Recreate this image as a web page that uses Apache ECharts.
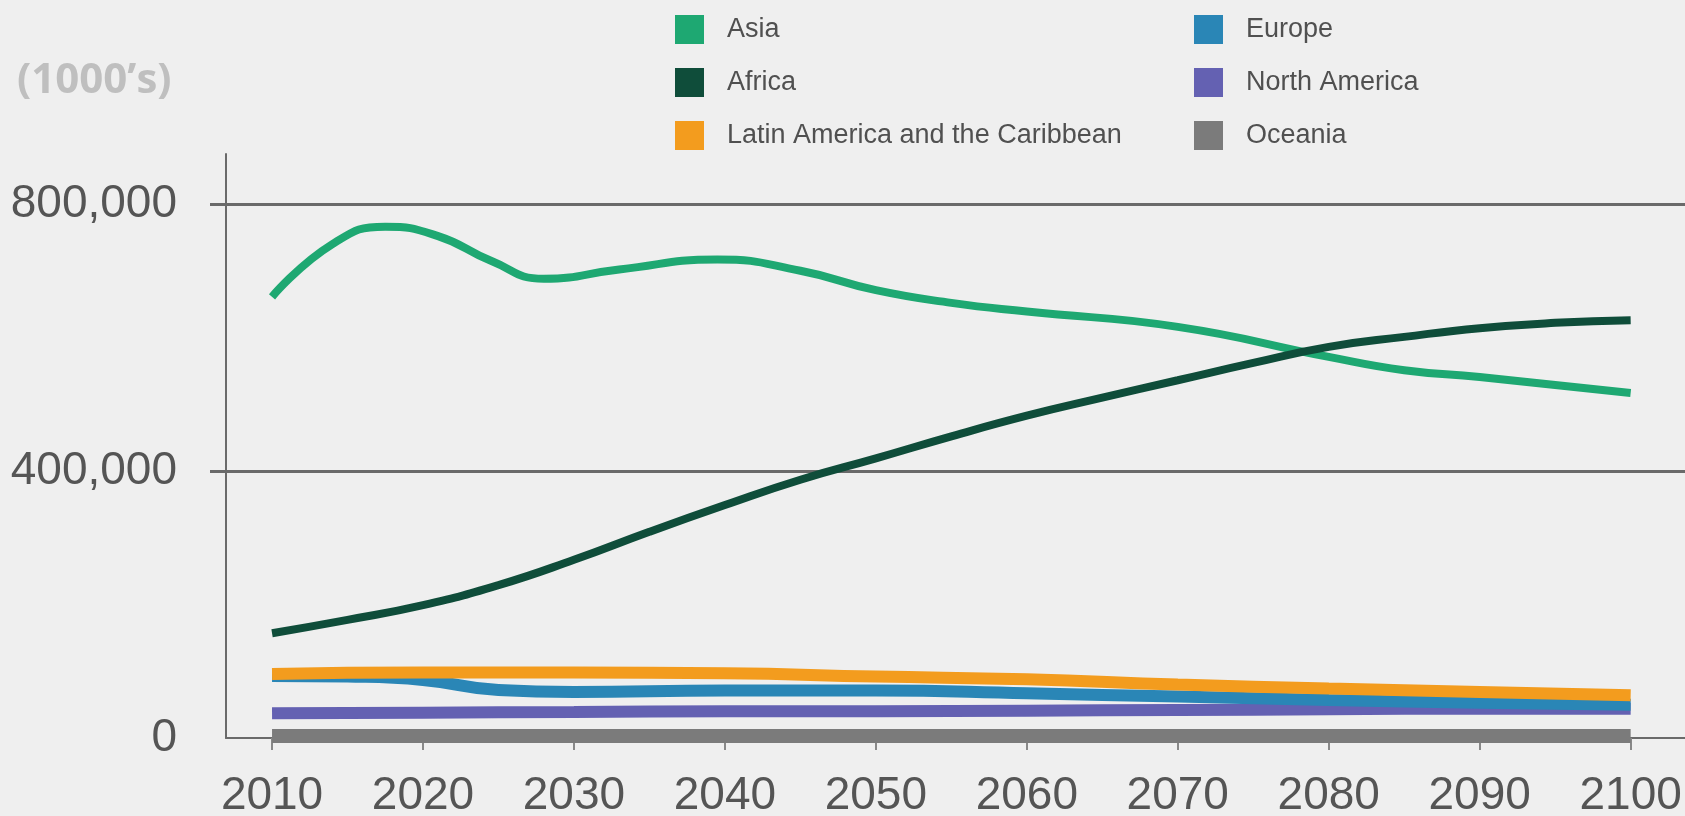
<!DOCTYPE html>
<html><head><meta charset="utf-8">
<script src="https://cdn.jsdelivr.net/npm/echarts@6/dist/echarts.min.js"></script>
<style>html,body{margin:0;padding:0;background:#efefef}#c{width:1685px;height:816px}</style>
</head><body><div id="c"></div>
<script>
// ---- data (values in thousands) ----
const xTickYears = [2010, 2020, 2030, 2040, 2050, 2060, 2070, 2080, 2090, 2100];
const yTickValues = [0, 400000, 800000];

const asiaYears  = [2010, 2014, 2017.5, 2021, 2024.5, 2028, 2033, 2039.5, 2045, 2050, 2055, 2060, 2070, 2080, 2085, 2090, 2100];
const asiaValues = [661000, 740000, 766000, 752000, 715000, 688000, 702000, 717000, 700000, 671000, 652000, 639000, 616000, 571000, 551000, 541000, 517000];

const africaYears  = [2010, 2015, 2020, 2025, 2030, 2035, 2040, 2045, 2050, 2055, 2060, 2065, 2070, 2075, 2080, 2085, 2090, 2095, 2100];
const africaValues = [157000, 177000, 199000, 229000, 267000, 309000, 349000, 387000, 419000, 452000, 483000, 510000, 536000, 562000, 586000, 601000, 614000, 622000, 626000];

const latamYears  = [2010, 2020, 2030, 2040, 2050, 2060, 2070, 2080, 2090, 2100];
const latamValues = [96000, 98000, 98000, 97000, 92000, 88000, 80000, 74000, 69000, 64000];

const europeYears  = [2010, 2015, 2020, 2025, 2030, 2040, 2050, 2060, 2070, 2080, 2090, 2100];
const europeValues = [93000, 92000, 87000, 72000, 69000, 71000, 71000, 67000, 62000, 57000, 53000, 50000];

const naYears  = [2010, 2020, 2030, 2040, 2050, 2060, 2070, 2080, 2090, 2100];
const naValues = [37000, 38000, 39000, 40000, 40000, 41000, 42000, 43000, 44000, 44000];

const oceaniaYears  = [2010, 2020, 2030, 2040, 2050, 2060, 2070, 2080, 2090, 2100];
const oceaniaValues = [3000, 3000, 3000, 3000, 3000, 3000, 3000, 3000, 3000, 3000];

const names = ['Asia', 'Africa', 'Latin America and the Caribbean', 'Europe', 'North America', 'Oceania'];
const colors = ['#1ea872', '#0f4d3a', '#f39c1e', '#2a86b6', '#6461b2', '#7b7b7b'];

function pairs(xs, ys) { return xs.map((x, i) => [x, ys[i]]); }

const chart = echarts.init(document.getElementById('c'));
const legendText = {fontSize: 27, fontFamily: '"Liberation Sans", Arial, sans-serif', color: '#505050', padding: [0, 0, 0, 18]};
chart.setOption({
  backgroundColor: '#efefef',
  animation: false,
  title: {
    text: '(1000\u2019s)', left: 12, top: 55,
    textStyle: {fontSize: 42, fontWeight: 'bold', color: '#bfbfbf', fontFamily: '"Open Sans", sans-serif'}
  },
  legend: [
    {left: 670, top: 10, orient: 'vertical', icon: 'rect', itemWidth: 29, itemHeight: 29, itemGap: 24,
     selectedMode: false, data: names.slice(0, 3), textStyle: legendText},
    {left: 1189, top: 10, orient: 'vertical', icon: 'rect', itemWidth: 29, itemHeight: 29, itemGap: 24,
     selectedMode: false, data: names.slice(3), textStyle: legendText}
  ],
  grid: {left: 226, right: 0, top: 154, bottom: 78, containLabel: false, outerBoundsMode: 'none'},
  xAxis: {
    type: 'value', min: 2006.95, max: 2103.6,
    axisLine: {show: true, lineStyle: {color: '#6a6a6a', width: 2}},
    axisTick: {show: true, customValues: xTickYears, length: 12, lineStyle: {color: '#888', width: 2}},
    axisLabel: {customValues: xTickYears, fontSize: 46, color: '#555', margin: 35,
                fontFamily: '"Liberation Sans", Arial, sans-serif', formatter: v => String(v)},
    splitLine: {show: false}
  },
  yAxis: {
    type: 'value', min: 0, max: 875000,
    axisLine: {show: true, lineStyle: {color: '#6a6a6a', width: 2}},
    axisTick: {show: true, customValues: [400000, 800000], length: 16, lineStyle: {color: '#6a6a6a', width: 3}},
    axisLabel: {customValues: yTickValues, fontSize: 46, color: '#555', margin: 49,
                fontFamily: '"Liberation Sans", Arial, sans-serif',
                formatter: v => v.toLocaleString('en-US')},
    splitLine: {show: true, lineStyle: {color: '#6a6a6a', width: 3}}
  },
  series: [
    {name: names[5], type: 'line', z: 2, clip: false, smooth: true, showSymbol: false, data: pairs(oceaniaYears, oceaniaValues), lineStyle: {width: 14, color: colors[5]}, itemStyle: {color: colors[5]}},
    {name: names[4], type: 'line', z: 3, clip: false, smooth: true, showSymbol: false, data: pairs(naYears, naValues), lineStyle: {width: 12, color: colors[4]}, itemStyle: {color: colors[4]}},
    {name: names[3], type: 'line', z: 4, clip: false, smooth: true, showSymbol: false, data: pairs(europeYears, europeValues), lineStyle: {width: 12, color: colors[3]}, itemStyle: {color: colors[3]}},
    {name: names[2], type: 'line', z: 5, clip: false, smooth: true, showSymbol: false, data: pairs(latamYears, latamValues), lineStyle: {width: 12, color: colors[2]}, itemStyle: {color: colors[2]}},
    {name: names[0], type: 'line', z: 6, clip: false, smooth: true, showSymbol: false, data: pairs(asiaYears, asiaValues), lineStyle: {width: 8, color: colors[0]}, itemStyle: {color: colors[0]}},
    {name: names[1], type: 'line', z: 7, clip: false, smooth: true, showSymbol: false, data: pairs(africaYears, africaValues), lineStyle: {width: 8, color: colors[1]}, itemStyle: {color: colors[1]}}
  ]
});
</script></body></html>
